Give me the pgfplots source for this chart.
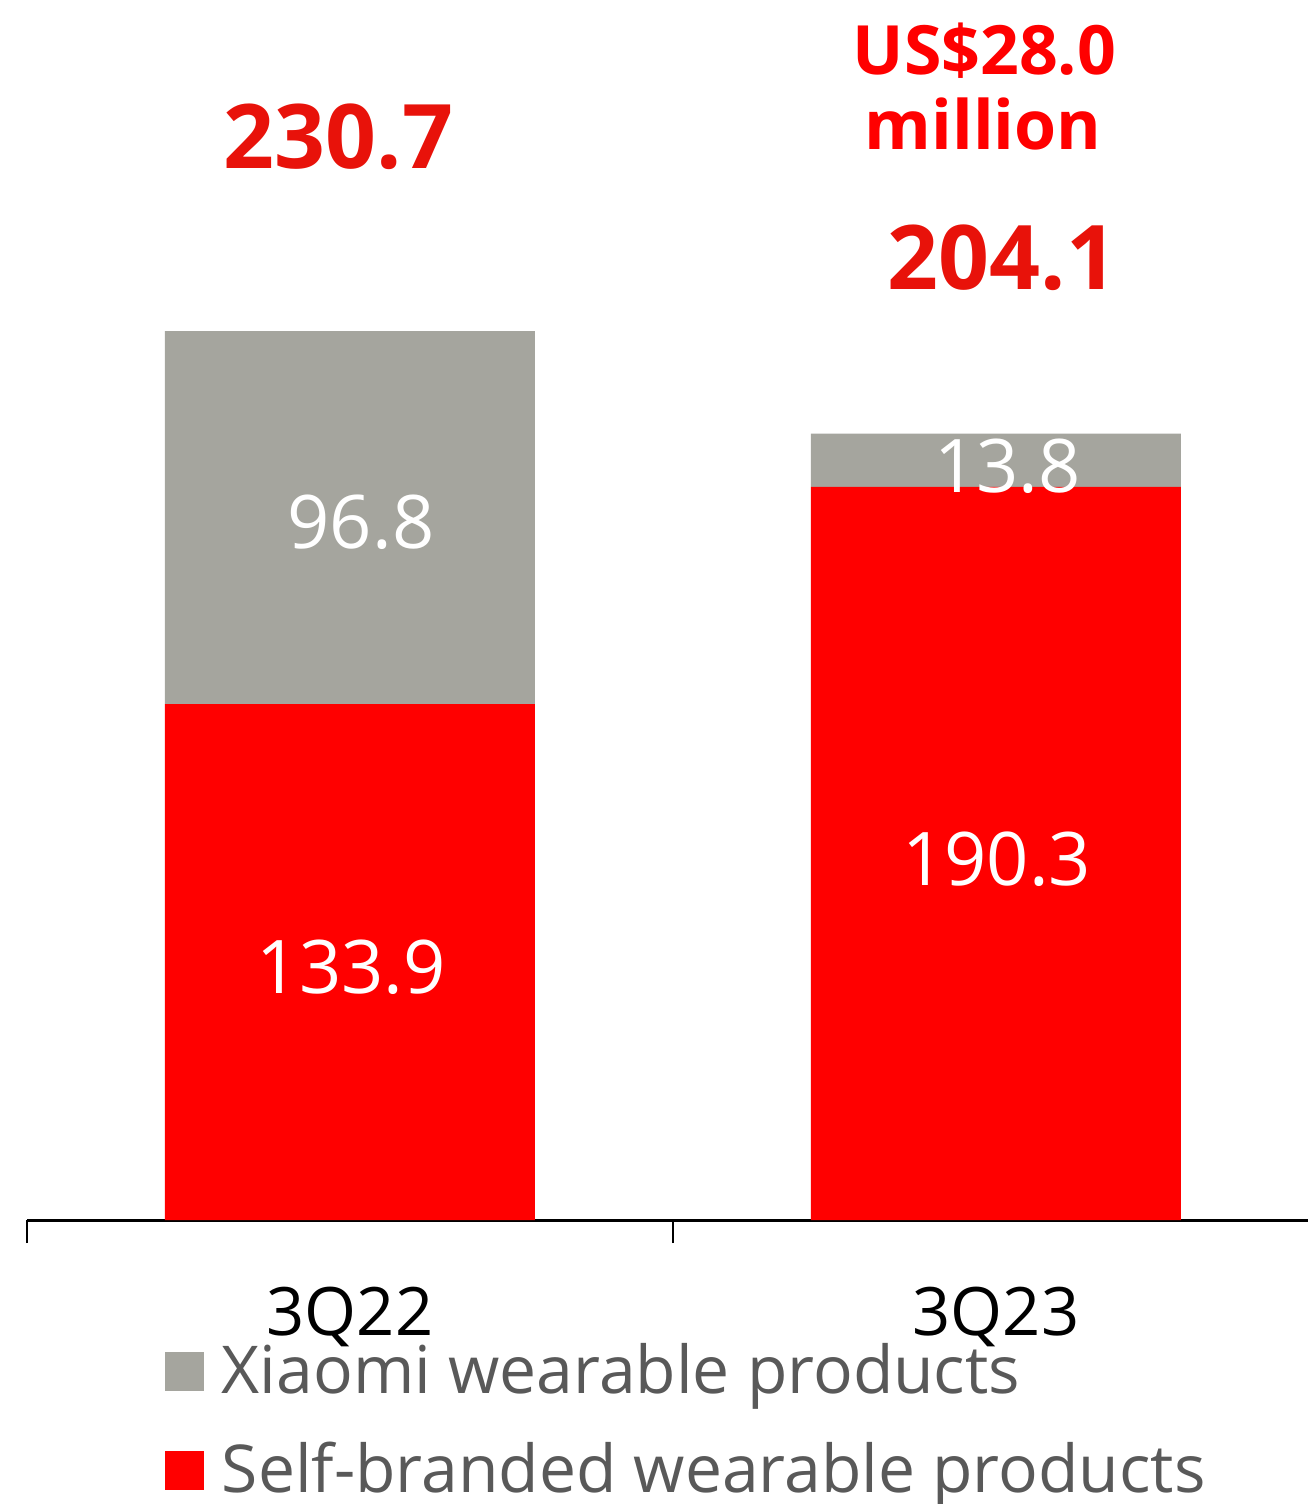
\documentclass[border=0pt]{standalone}
\usepackage{pgfplots}
\pgfplotsset{compat=1.18}
\usepackage{fontspec}
\setmainfont{Open Sans}
\definecolor{xred}{HTML}{FF0000}
\definecolor{xgrey}{HTML}{A5A59E}
\definecolor{tred}{HTML}{E8120A}
\definecolor{lgrey}{HTML}{595959}
\pgfplotsset{base/.style={at={(6.75pt,71pt)}, anchor=south west,
  scale only axis, width=320.25pt, height=305pt,
  xmin=-0.5, xmax=1.48297, ymin=0, ymax=316.63, clip=false}}
\begin{document}
\begin{tikzpicture}
\useasboundingbox (0,0) rectangle (327pt,376pt);
\begin{axis}[
  base,
  ybar stacked, bar width=92.5pt,
  axis x line=bottom, axis y line=none,
  axis line style={-, line width=0.75pt, black},
  xtick={0,1}, xticklabels={3Q22,3Q23},
  major tick length=0pt,
  minor xtick={-0.5,0.5}, minor tick length=5.75pt, tick align=outside,
  minor tick style={line width=0.5pt, black},
  xticklabel style={anchor=base, yshift=-28.75pt, font=\fontsize{16.7}{20}\selectfont, text=black},
  reverse legend,
  legend style={at={(0.10695,-0.0959)}, anchor=north west, draw=none, fill=none, inner sep=0pt, column sep=4.5pt, font=\fontsize{16.5}{20}\selectfont, text=lgrey, nodes={inner sep=0pt, text height=14pt, text depth=10.75pt, anchor=base west}},
  legend cell align=left,
  legend image code/.code={\fill[#1] (0pt,0.75pt) rectangle (9.75pt,10.5pt);},
]
\addplot[fill=xred, draw=none] coordinates {(0,133.9) (1,190.3)};
\addplot[fill=xgrey, draw=none] coordinates {(0,96.8) (1,13.8)};
\legend{Self-branded wearable products, Xiaomi wearable products}
\end{axis}
\begin{axis}[base, hide axis]
\node[anchor=base, text=tred, font=\fontsize{22.3}{28}\selectfont\bfseries] at (axis cs:-0.018,273.0) {230.7};
\node[anchor=base, text=tred, font=\fontsize{22.3}{28}\selectfont\bfseries] at (axis cs:1.010,241.4) {204.1};
\node[anchor=base, text=xred, font=\fontsize{17}{22}\selectfont\bfseries] at (axis cs:0.982,297.2) {US\$28.0};
\node[anchor=base, text=xred, font=\fontsize{17}{22}\selectfont\bfseries] at (axis cs:0.980,277.7) {million};
\node[anchor=base, text=white, font=\fontsize{18.5}{24}\selectfont] at (axis cs:0.017,174.4) {96.8};
\node[anchor=base, text=white, font=\fontsize{18.5}{24}\selectfont] at (axis cs:0.002,58.9) {133.9};
\node[anchor=base, text=white, font=\fontsize{18.5}{24}\selectfont] at (axis cs:1.018,188.9) {13.8};
\node[anchor=base, text=white, font=\fontsize{18.5}{24}\selectfont] at (axis cs:1.001,86.9) {190.3};
\end{axis}
\end{tikzpicture}
\end{document}
